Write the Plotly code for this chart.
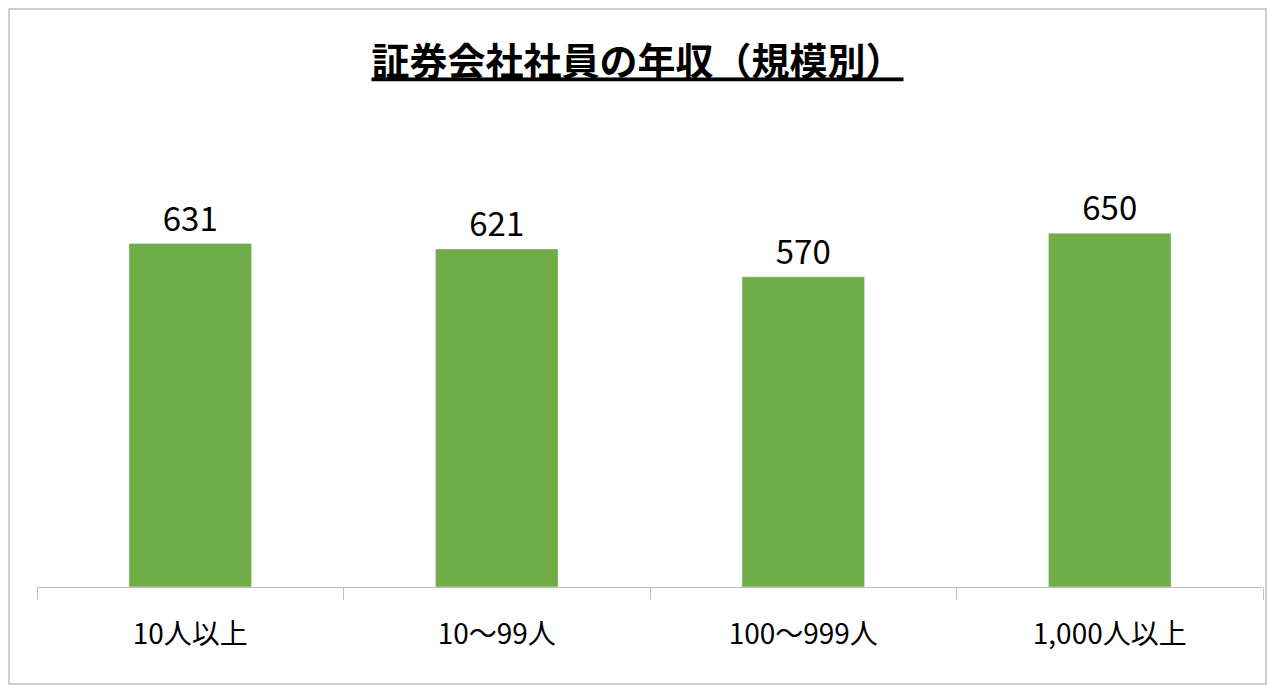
import plotly.graph_objects as go

categories = ["10人以上", "10～99人", "100～999人", "1,000人以上"]
salaries = [631, 621, 570, 650]

fig = go.Figure()
fig.add_trace(go.Bar(x=categories, y=salaries, marker_color="#70AD47", width=0.4,
                     text=salaries, textposition="outside",
                     textfont=dict(size=33, color="black"), cliponaxis=False))

fig.update_layout(
    width=1259, height=677,
    margin=dict(l=29, r=4, t=198, b=98),
    paper_bgcolor="white", plot_bgcolor="white",
    font=dict(family="Noto Sans CJK JP", color="black"),
    title=dict(text="<b><u>証券会社社員の年収（規模別）</u></b>", x=0.5, xanchor="center",
               y=0.92, yanchor="middle", font=dict(size=38)),
    showlegend=False,
    xaxis=dict(showline=True, linecolor="#BFBFBF", ticks="outside", tickcolor="#BFBFBF",
               ticklen=12, tickson="boundaries", tickfont=dict(size=28),
               ticklabelstandoff=22),
    yaxis=dict(range=[0, 700], visible=False),
    shapes=[dict(type="rect", xref="paper", yref="paper", x0=-28/1226, x1=1+3/1226,
                 y0=-97/381, y1=1+197/381, line=dict(color="#BFBFBF", width=1.5))],
)
fig.write_html("out.html")
